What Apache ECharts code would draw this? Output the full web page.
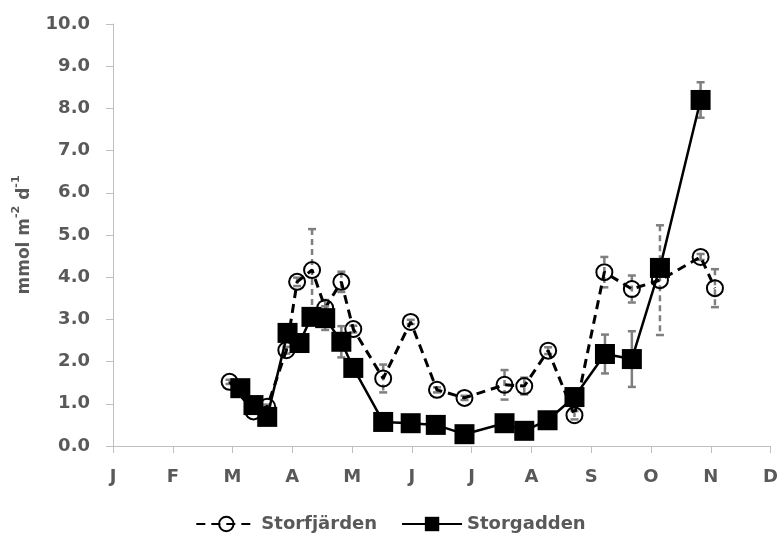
<!DOCTYPE html>
<html>
<head>
<meta charset="utf-8">
<script src="https://cdn.jsdelivr.net/npm/echarts@6/dist/echarts.min.js"></script>
<style>
html,body{margin:0;padding:0;background:#fff;}
#c{width:781px;height:540px;}
</style>
</head>
<body>
<div id="c"></div>
<script>
// Month tick labels (x axis in months since 1 Jan)
const monthLabels = ['J','F','M','A','M','J','J','A','S','O','N','D'];

// Storfjärden (open circles, dashed)
const sfX   = [1.95, 2.35, 2.58, 2.90, 3.08, 3.33, 3.55, 3.82, 4.02, 4.52, 4.98, 5.42, 5.88, 6.55, 6.88, 7.28, 7.72, 8.22, 8.68, 9.15, 9.83, 10.07];
const sfY   = [1.52, 0.82, 0.93, 2.27, 3.89, 4.17, 3.27, 3.89, 2.77, 1.60, 2.94, 1.33, 1.14, 1.45, 1.42, 2.26, 0.73, 4.12, 3.72, 3.93, 4.48, 3.74];
const sfErr = [0.05, 0.05, 0.05, 0.08, 0.10, 0.97, 0.19, 0.24, 0.08, 0.33, 0.05, 0.06, 0.05, 0.35, 0.20, 0.08, 0.10, 0.36, 0.32, 1.30, 0.07, 0.45];

// Storgadden (filled squares, solid)
const sgX   = [2.13, 2.35, 2.58, 2.92, 3.12, 3.32, 3.55, 3.82, 4.02, 4.52, 4.98, 5.40, 5.88, 6.55, 6.88, 7.27, 7.72, 8.23, 8.68, 9.15, 9.83];
const sgY   = [1.37, 0.97, 0.69, 2.68, 2.44, 3.06, 3.03, 2.47, 1.85, 0.57, 0.54, 0.50, 0.28, 0.54, 0.36, 0.61, 1.16, 2.18, 2.06, 4.22, 8.20];
const sgErr = [0.05, 0.05, 0.05, 0.10, 0.10, 0.15, 0.28, 0.37, 0.10, 0.05, 0.05, 0.05, 0.05, 0.05, 0.05, 0.05, 0.10, 0.46, 0.66, 0.15, 0.42];

const FONT = 'DejaVu Sans';
const TXT = '#595959';
const AX = '#bfbfbf';

function zip(xs, ys) { return xs.map((x, i) => [x, ys[i]]); }
function zip3(xs, ys, es) { return xs.map((x, i) => [x, ys[i], es[i]]); }

function errRender(dash) {
  return function (params, api) {
    const x = api.value(0), y = api.value(1), e = api.value(2);
    const t = api.coord([x, y + e]);
    const b = api.coord([x, y - e]);
    const w = 4;
    const style = { stroke: '#7f7f7f', lineWidth: 2.5, lineDash: dash ? [6, 4] : null, fill: null };
    return {
      type: 'group',
      children: [
        { type: 'line', shape: { x1: t[0], y1: t[1], x2: b[0], y2: b[1] }, style: style },
        { type: 'line', shape: { x1: t[0] - w, y1: t[1], x2: t[0] + w, y2: t[1] }, style: { stroke: '#7f7f7f', lineWidth: 2.5 } },
        { type: 'line', shape: { x1: b[0] - w, y1: b[1], x2: b[0] + w, y2: b[1] }, style: { stroke: '#7f7f7f', lineWidth: 2.5 } }
      ]
    };
  };
}

const chart = echarts.init(document.getElementById('c'), null, { renderer: 'canvas' });
chart.setOption({
  animation: false,
  backgroundColor: '#fff',
  grid: { left: 113, right: 8, top: 24, bottom: 94, containLabel: false },
  xAxis: {
    type: 'value', min: 0, max: 11, interval: 1,
    axisLine: { show: true, lineStyle: { color: AX, width: 1 } },
    axisTick: { show: true, inside: false, length: 7, lineStyle: { color: AX } },
    splitLine: { show: false },
    axisLabel: {
      margin: 22, color: TXT, fontFamily: FONT, fontWeight: 'bold', fontSize: 18,
      formatter: v => monthLabels[Math.round(v)] || ''
    }
  },
  yAxis: {
    type: 'value', min: 0, max: 10, interval: 1,
    axisLine: { show: true, lineStyle: { color: AX, width: 1 } },
    axisTick: { show: true, inside: false, length: 7, lineStyle: { color: AX } },
    splitLine: { show: false },
    axisLabel: {
      margin: 23, color: TXT, fontFamily: FONT, fontWeight: 'bold', fontSize: 18,
      formatter: v => v.toFixed(1)
    },
    name: '{a|mmol m}{s|-2}{a| d}{s|-1}',
    nameLocation: 'middle',
    nameGap: 80,
    nameTextStyle: {
      color: TXT, fontFamily: FONT, fontWeight: 'bold',
      rich: {
        a: { fontSize: 17, fontFamily: FONT, fontWeight: 'bold', color: TXT, lineHeight: 22, verticalAlign: 'bottom' },
        s: { fontSize: 11, fontFamily: FONT, fontWeight: 'bold', color: TXT, lineHeight: 12, verticalAlign: 'top' }
      }
    }
  },
  legend: {
    data: ['Storfjärden', 'Storgadden'],
    left: 'center', top: 510,
    itemWidth: 60, itemHeight: 18, itemGap: 24,
    textStyle: { color: TXT, fontFamily: FONT, fontWeight: 'bold', fontSize: 18 }
  },
  series: [
    {
      name: 'sfErr', type: 'custom', data: zip3(sfX, sfY, sfErr), z: 2,
      encode: { x: 0, y: 1 }, renderItem: errRender(true), silent: true
    },
    {
      name: 'Storfjärden', type: 'line', data: zip(sfX, sfY), z: 3,
      symbol: 'circle', symbolSize: 16,
      lineStyle: { color: '#000', width: 3, type: [9, 6] },
      itemStyle: { color: 'rgba(255,255,255,0)', borderColor: '#000', borderWidth: 2 },
      emphasis: { disabled: true }
    },
    {
      name: 'sgErr', type: 'custom', data: zip3(sgX, sgY, sgErr), z: 4,
      encode: { x: 0, y: 1 }, renderItem: errRender(false), silent: true
    },
    {
      name: 'Storgadden', type: 'line', data: zip(sgX, sgY), z: 5,
      symbol: 'rect', symbolSize: 20,
      lineStyle: { color: '#000', width: 2.5 },
      itemStyle: { color: '#000', borderColor: '#000', borderWidth: 0 },
      emphasis: { disabled: true }
    }
  ]
});
</script>
</body>
</html>
